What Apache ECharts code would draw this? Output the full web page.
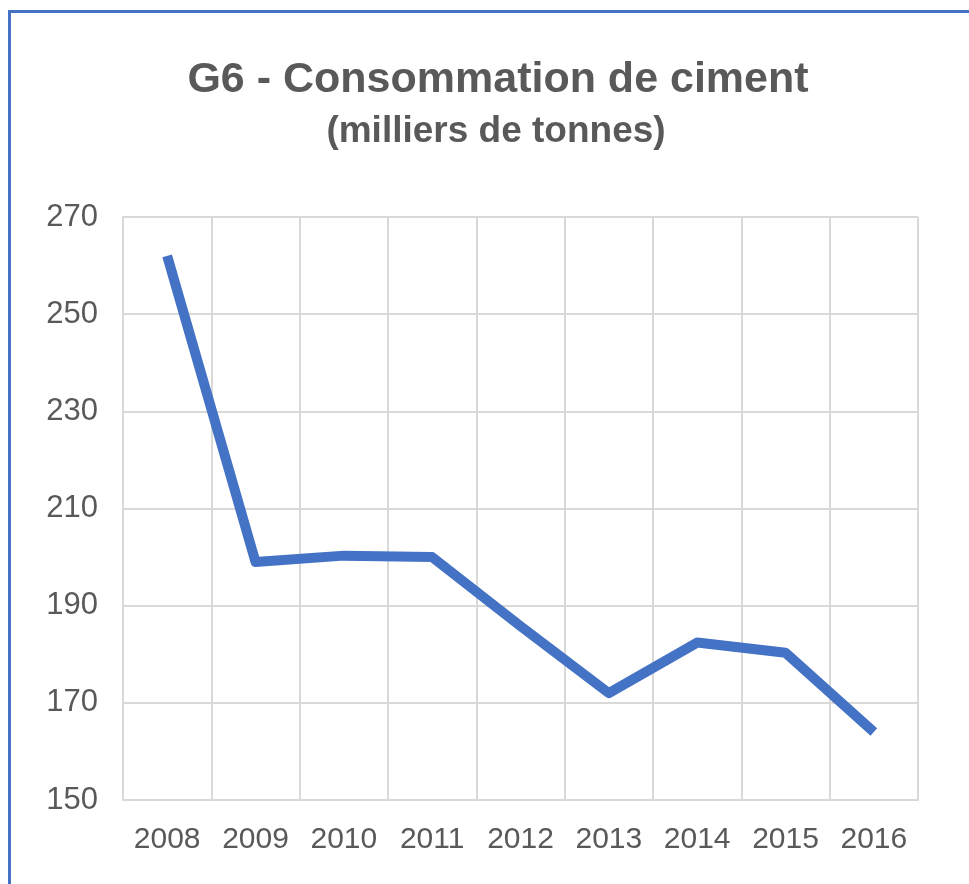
<!DOCTYPE html>
<html>
<head>
<meta charset="utf-8">
<script src="https://cdn.jsdelivr.net/npm/echarts@6/dist/echarts.min.js"></script>
<style>
  html, body { margin: 0; padding: 0; background: #fff; overflow: hidden; }
  #frame { position: absolute; left: 8px; top: 10px; width: 1000px; height: 1000px;
           border-left: 3px solid #4472c4; border-top: 3px solid #4472c4; }
  #chart { position: absolute; left: 0; top: 0; width: 969px; height: 884px; }
</style>
</head>
<body>
<div id="frame"></div>
<div id="chart"></div>
<script>
// années et consommation (milliers de tonnes)
const years = ['2008', '2009', '2010', '2011', '2012', '2013', '2014', '2015', '2016'];
const ciment = [262, 199, 200.3, 200, 185.8, 172, 182.4, 180.3, 164];

const txt = '#595959';
const gridCol = '#d9d9d9';

let chart = echarts.init(document.getElementById('chart'));

let option = {
    animation: false,
    title: [{
        text: 'G6 - Consommation de ciment',
        left: 493,
        top: 54,
        textAlign: 'center',
        textStyle: { color: txt, fontSize: 43, fontWeight: 'bold', fontFamily: 'Liberation Sans, Arial' }
    }, {
        text: '(milliers de tonnes)',
        left: 491,
        top: 108,
        textAlign: 'center',
        textStyle: { color: txt, fontSize: 37, fontWeight: 'bold', fontFamily: 'Liberation Sans, Arial' }
    }],
    grid: {
        left: 123,
        right: 51,
        top: 217,
        bottom: 84
    },
    xAxis: {
        type: 'category',
        boundaryGap: true,
        data: years,
        axisLine: { show: true, lineStyle: { color: gridCol, width: 2 } },
        axisTick: { show: false, interval: 0 },
        splitLine: { show: true, interval: 0, lineStyle: { color: gridCol, width: 2 } },
        axisLabel: { color: txt, fontSize: 30, margin: 25, interval: 0, fontFamily: 'Liberation Sans, Arial' }
    },
    yAxis: {
        type: 'value',
        min: 150,
        max: 270,
        interval: 20,
        axisLine: { show: true, lineStyle: { color: gridCol, width: 2 } },
        axisTick: { show: false },
        splitLine: { show: true, lineStyle: { color: gridCol, width: 2 } },
        axisLabel: { color: txt, fontSize: 31, margin: 25, padding: [4, 0, 0, 0], fontFamily: 'Liberation Sans, Arial' }
    },
    series: [{
        type: 'line',
        data: ciment,
        symbol: 'none',
        lineStyle: { color: '#4472c4', width: 10, join: 'round' }
    }]
};

chart.setOption(option);
</script>
</body>
</html>
